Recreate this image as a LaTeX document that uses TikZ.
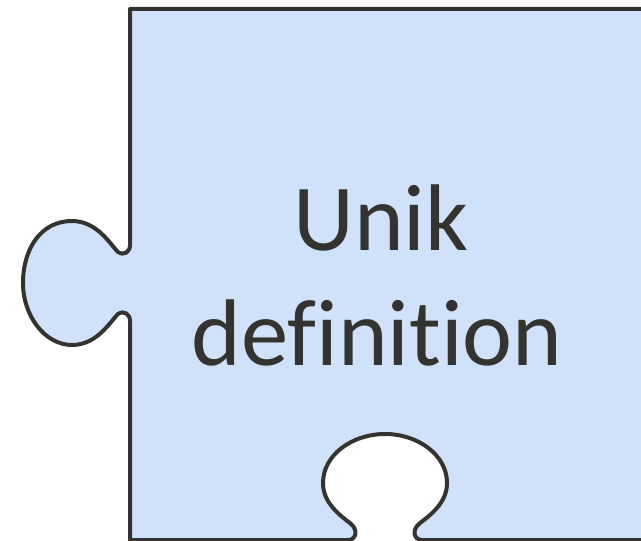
\documentclass[tikz,border=0pt]{standalone}
\usepackage{fontspec}
\setmainfont{Carlito}[Ligatures=NoCommon]

\tikzset{every picture/.style={line width=0.75pt}}

\begin{document}
\begin{tikzpicture}[x=0.75pt,y=0.75pt,yscale=-1,xscale=1]
	\useasboundingbox (0,0) rectangle (641,541);
	\clip (0,0) rectangle (641,541);

	%Shape: Puzzle Piece [id:dp5512093847261104] 
	\draw  [color={rgb, 255:red, 51; green, 51; blue, 48 }  ,draw opacity=1 ][fill={rgb, 255:red, 207; green, 226; blue, 250 }  ,fill opacity=1 ][line width=3] [line join=round]  (700,9) -- (130,9) -- (130,245) .. controls (130,252) and (124,256) .. (118,252) .. controls (110,244) and (97,221) .. (72,221) .. controls (40,221) and (23,250) .. (23,283) .. controls (23,316) and (45,345) .. (72,345) .. controls (97,345) and (110,322) .. (118,314) .. controls (124,310) and (130,314) .. (130,321) -- (130,540) -- (348,540) .. controls (356,540) and (359,530) .. (350,523) .. controls (335,512) and (323,500) .. (323,483) .. controls (323,455) and (352,434) .. (385,434) .. controls (418,434) and (447,455) .. (447,483) .. controls (447,500) and (435,512) .. (420,523) .. controls (411,530) and (414,540) .. (422,540) -- (700,540) -- cycle ;

	% Text Node
	\node (unik) [anchor=base, text={rgb, 255:red, 51; green, 51; blue, 48 }, inner sep=0pt, font=\fontsize{71}{85}\selectfont] at (381,251) {Unik};
	% Text Node
	\node (definition) [anchor=base, text={rgb, 255:red, 51; green, 51; blue, 48 }, inner sep=0pt, font=\fontsize{71}{85}\selectfont] at (377,365) {definition};

\end{tikzpicture}
\end{document}
